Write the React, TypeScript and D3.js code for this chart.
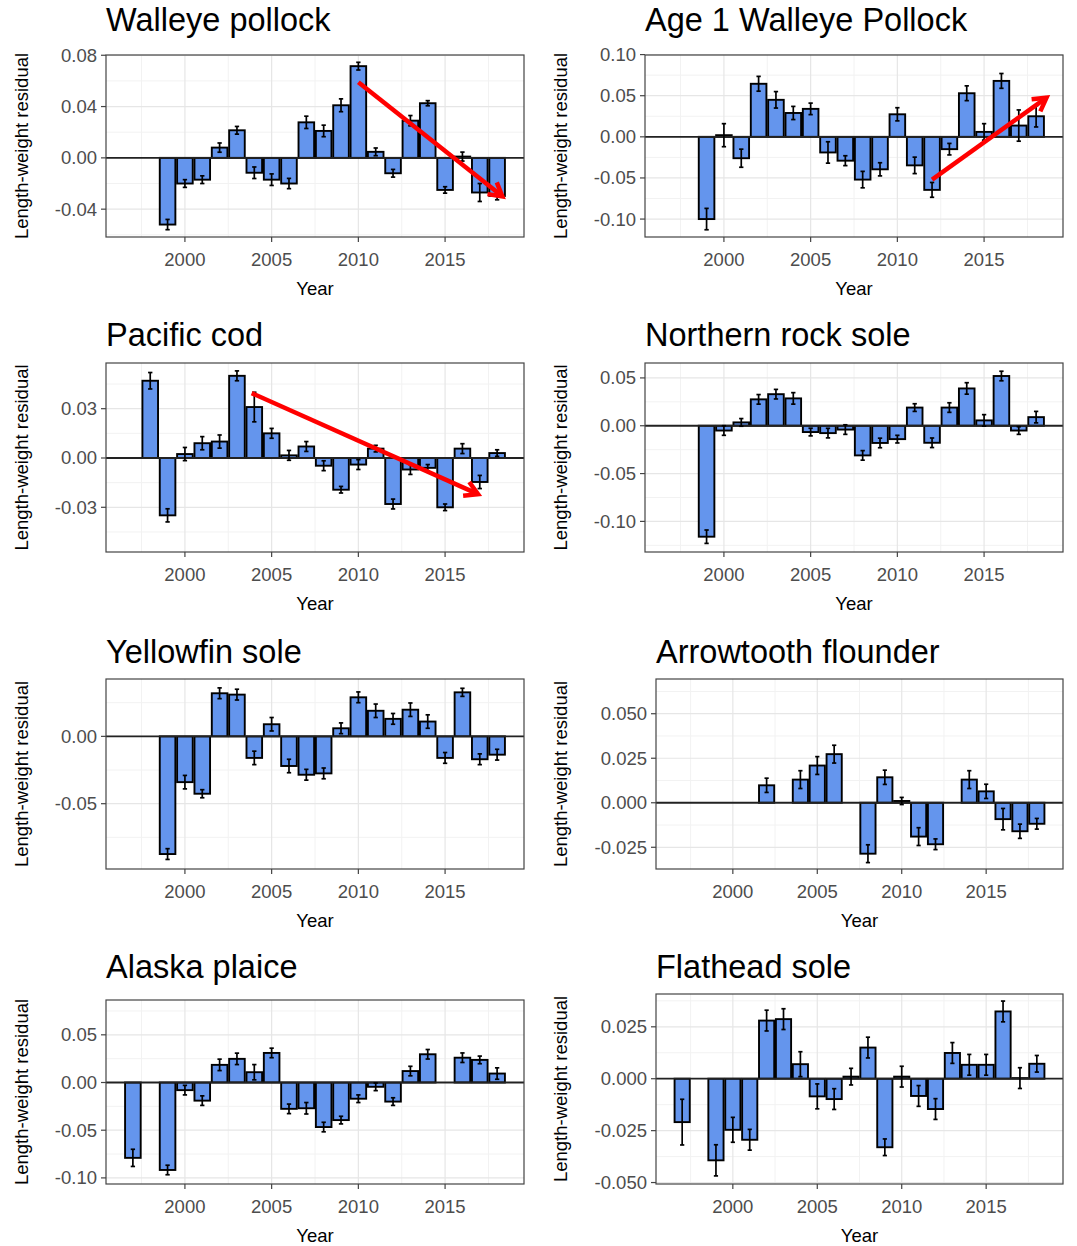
import React from 'react';
import * as d3 from 'd3';

// shared x axis (years)
const yearDomain: [number, number] = [1995.45, 2019.55];
const yearTicks = [2000, 2005, 2010, 2015];
const yearMinor = [1997.5, 2002.5, 2007.5, 2012.5, 2017.5];

const span = (a: number, b: number) => d3.range(a, b + 1);

// Walleye pollock
const wpYears = span(1999, 2018);
const wpValues = [-0.052, -0.02, -0.017, 0.008, 0.0215, -0.0116, -0.017, -0.02, 0.0277, 0.021, 0.041, 0.0715, 0.0047, -0.012, 0.029, 0.0426, -0.025, 0.001, -0.027, -0.0297];
const wpErrors = [0.004, 0.003, 0.003, 0.0036, 0.003, 0.0045, 0.0045, 0.004, 0.0048, 0.0045, 0.005, 0.003, 0.003, 0.003, 0.004, 0.002, 0.0025, 0.0035, 0.007, 0.003];

// Age 1 walleye pollock
const a1Years = span(1999, 2018);
const a1Values = [-0.1, 0.002, -0.026, 0.0645, 0.045, 0.029, 0.034, -0.019, -0.029, -0.052, -0.0395, 0.0274, -0.0347, -0.0645, -0.015, 0.053, 0.006, 0.068, 0.0137, 0.025];
const a1Errors = [0.013, 0.014, 0.011, 0.009, 0.01, 0.008, 0.007, 0.013, 0.006, 0.01, 0.008, 0.008, 0.01, 0.009, 0.007, 0.009, 0.01, 0.009, 0.019, 0.013];

// Pacific cod
const pcYears = span(1998, 2018);
const pcValues = [0.047, -0.0349, 0.0024, 0.009, 0.01, 0.05, 0.031, 0.015, 0.0016, 0.007, -0.0047, -0.0193, -0.004, 0.0057, -0.028, -0.007, -0.006, -0.03, 0.0057, -0.0146, 0.003];
const pcErrors = [0.005, 0.004, 0.004, 0.004, 0.004, 0.003, 0.009, 0.003, 0.003, 0.003, 0.003, 0.002, 0.003, 0.002, 0.003, 0.003, 0.002, 0.002, 0.003, 0.004, 0.002];

// Northern rock sole
const nrsYears = span(1999, 2018);
const nrsValues = [-0.116, -0.005, 0.0035, 0.0276, 0.033, 0.0286, -0.0066, -0.0077, -0.004, -0.031, -0.018, -0.014, 0.019, -0.0178, 0.019, 0.039, 0.0056, 0.052, -0.005, 0.009];
const nrsErrors = [0.007, 0.005, 0.004, 0.005, 0.005, 0.006, 0.004, 0.005, 0.005, 0.005, 0.005, 0.004, 0.004, 0.005, 0.005, 0.006, 0.006, 0.005, 0.004, 0.006];

// Yellowfin sole
const yfsYears = span(1999, 2018);
const yfsValues = [-0.0874, -0.034, -0.0426, 0.032, 0.031, -0.016, 0.009, -0.022, -0.0285, -0.0275, 0.006, 0.029, 0.019, 0.013, 0.0198, 0.011, -0.016, 0.0327, -0.017, -0.0136];
const yfsErrors = [0.004, 0.005, 0.003, 0.004, 0.004, 0.005, 0.005, 0.005, 0.004, 0.004, 0.004, 0.004, 0.005, 0.004, 0.005, 0.005, 0.004, 0.003, 0.004, 0.004];

// Arrowtooth flounder
const atfYears = [2002, 2004, 2005, 2006, 2008, 2009, 2010, 2011, 2012, 2014, 2015, 2016, 2017, 2018];
const atfValues = [0.0098, 0.013, 0.0209, 0.0273, -0.0286, 0.0143, 0.001, -0.019, -0.0233, 0.013, 0.0064, -0.0092, -0.016, -0.0118];
const atfErrors = [0.004, 0.005, 0.005, 0.005, 0.005, 0.004, 0.002, 0.005, 0.003, 0.005, 0.004, 0.006, 0.004, 0.003];

// Alaska plaice (no 1998, no 2015)
const akpYears = [1997, ...span(1999, 2014), 2016, 2017, 2018];
const akpValues = [-0.079, -0.0917, -0.008, -0.019, 0.0185, 0.0248, 0.0108, 0.031, -0.0276, -0.027, -0.0467, -0.0394, -0.017, -0.0045, -0.02, 0.012, 0.0296, 0.026, 0.0237, 0.0094];
const akpErrors = [0.009, 0.005, 0.005, 0.005, 0.006, 0.006, 0.008, 0.005, 0.005, 0.006, 0.005, 0.004, 0.004, 0.004, 0.004, 0.005, 0.005, 0.005, 0.004, 0.006];

// Flathead sole (no 1998)
const fhsYears = [1997, ...span(1999, 2018)];
const fhsValues = [-0.0209, -0.0393, -0.0246, -0.0294, 0.028, 0.0287, 0.007, -0.0085, -0.0098, 0.001, 0.015, -0.033, 0.001, -0.0083, -0.0146, 0.0124, 0.0067, 0.0067, 0.0324, 0.0003, 0.0072];
const fhsErrors = [0.011, 0.0075, 0.006, 0.005, 0.005, 0.005, 0.006, 0.006, 0.005, 0.004, 0.005, 0.004, 0.005, 0.005, 0.005, 0.005, 0.005, 0.005, 0.005, 0.005, 0.004];

// red trend arrows: [year0, value0, year1, value1]
const wpArrow = [2010, 0.059, 2018.3, -0.03];
const a1Arrow = [2012, -0.052, 2018.6, 0.0476];
const pcArrow = [2003.85, 0.0395, 2016.9, -0.022];

const locale = d3.formatLocale({ decimal: '.', thousands: ',', grouping: [3], currency: ['', ''], minus: '-' });

const FONT = '"Liberation Sans", Arial, Helvetica, sans-serif';

type PanelSpec = {
  title: string;
  years: number[];
  values: number[];
  errors: number[];
  yDomain: [number, number];
  yTicks: number[];
  fmt: string;
  arrow?: number[];
  box: { left: number; right: number; top: number; bottom: number; titleY: number; labelX: number };
};

const panels: PanelSpec[] = [
  { title: 'Walleye pollock', years: wpYears, values: wpValues, errors: wpErrors, yDomain: [-0.0617, 0.0802], yTicks: [-0.04, 0, 0.04, 0.08], fmt: '.2f', arrow: wpArrow,
    box: { left: 106, right: 524, top: 55, bottom: 237, titleY: 31, labelX: 22 } },
  { title: 'Age 1 Walleye Pollock', years: a1Years, values: a1Values, errors: a1Errors, yDomain: [-0.1218, 0.0995], yTicks: [-0.1, -0.05, 0, 0.05, 0.1], fmt: '.2f', arrow: a1Arrow,
    box: { left: 645, right: 1063, top: 55, bottom: 237, titleY: 31, labelX: 561 } },
  { title: 'Pacific cod', years: pcYears, values: pcValues, errors: pcErrors, yDomain: [-0.0572, 0.0578], yTicks: [-0.03, 0, 0.03], fmt: '.2f', arrow: pcArrow,
    box: { left: 106, right: 524, top: 363, bottom: 552, titleY: 346, labelX: 22 } },
  { title: 'Northern rock sole', years: nrsYears, values: nrsValues, errors: nrsErrors, yDomain: [-0.132, 0.0656], yTicks: [-0.1, -0.05, 0, 0.05], fmt: '.2f',
    box: { left: 645, right: 1063, top: 363, bottom: 552, titleY: 346, labelX: 561 } },
  { title: 'Yellowfin sole', years: yfsYears, values: yfsValues, errors: yfsErrors, yDomain: [-0.0985, 0.0426], yTicks: [-0.05, 0], fmt: '.2f',
    box: { left: 106, right: 524, top: 679, bottom: 869, titleY: 663, labelX: 22 } },
  { title: 'Arrowtooth flounder', years: atfYears, values: atfValues, errors: atfErrors, yDomain: [-0.0372, 0.0695], yTicks: [-0.025, 0, 0.025, 0.05], fmt: '.3f',
    box: { left: 656, right: 1063, top: 679, bottom: 869, titleY: 663, labelX: 561 } },
  { title: 'Alaska plaice', years: akpYears, values: akpValues, errors: akpErrors, yDomain: [-0.1064, 0.0865], yTicks: [-0.1, -0.05, 0, 0.05], fmt: '.2f',
    box: { left: 106, right: 524, top: 1000, bottom: 1184, titleY: 978, labelX: 22 } },
  { title: 'Flathead sole', years: fhsYears, values: fhsValues, errors: fhsErrors, yDomain: [-0.0507, 0.0408], yTicks: [-0.05, -0.025, 0, 0.025], fmt: '.3f',
    box: { left: 656, right: 1063, top: 994, bottom: 1184, titleY: 978, labelX: 561 } },
];

const Panel: React.FC<{ p: PanelSpec; idx: number }> = ({ p, idx }) => {
  const { left, right, top, bottom, titleY, labelX } = p.box;
  const x = d3.scaleLinear().domain(yearDomain).range([left, right]);
  const y = d3.scaleLinear().domain(p.yDomain).range([bottom, top]);
  const fmt = locale.format(p.fmt);

  // minor gridlines half way between major ticks
  const step = p.yTicks.length > 1 ? p.yTicks[1] - p.yTicks[0] : 0.05;
  const yMinor: number[] = [];
  for (let v = p.yTicks[0] - step * 1.5; v < p.yDomain[1]; v += step) {
    if (v > p.yDomain[0]) yMinor.push(v);
  }

  const barW = 0.9;
  const capW = 0.25;
  let arrowEl = null;
  if (p.arrow) {
    const [x0, y0, x1, y1] = p.arrow;
    const px0 = x(x0), py0 = y(y0), px1 = x(x1), py1 = y(y1);
    const ang = Math.atan2(py1 - py0, px1 - px0);
    const L = 15;
    const a1 = ang + Math.PI - Math.PI / 6;
    const a2 = ang + Math.PI + Math.PI / 6;
    arrowEl = (
      <g stroke="#ff0000" strokeWidth={4.5} fill="none">
        <line x1={px0} y1={py0} x2={px1} y2={py1} />
        <polyline
          points={`${px1 + L * Math.cos(a1)},${py1 + L * Math.sin(a1)} ${px1},${py1} ${px1 + L * Math.cos(a2)},${py1 + L * Math.sin(a2)}`}
          strokeLinejoin="miter"
        />
      </g>
    );
  }

  const clipId = `clip${idx}`;
  return (
    <g>
      <defs>
        <clipPath id={clipId}>
          <rect x={left} y={top} width={right - left} height={bottom - top} />
        </clipPath>
      </defs>
      <rect x={left} y={top} width={right - left} height={bottom - top} fill="#fff" />
      {yMinor.map((v) => (
        <line key={'ym' + v} x1={left} x2={right} y1={y(v)} y2={y(v)} stroke="#f2f2f2" strokeWidth={1} />
      ))}
      {yearMinor.map((v) => (
        <line key={'xm' + v} x1={x(v)} x2={x(v)} y1={top} y2={bottom} stroke="#f2f2f2" strokeWidth={1} />
      ))}
      {p.yTicks.map((v) => (
        <line key={'yg' + v} x1={left} x2={right} y1={y(v)} y2={y(v)} stroke="#e6e6e6" strokeWidth={1.2} />
      ))}
      {yearTicks.map((v) => (
        <line key={'xg' + v} x1={x(v)} x2={x(v)} y1={top} y2={bottom} stroke="#e6e6e6" strokeWidth={1.2} />
      ))}
      <g clipPath={`url(#${clipId})`}>
        {p.years.map((yr, i) => {
          const v = p.values[i];
          return (
            <rect
              key={'b' + yr}
              x={x(yr - barW / 2)}
              width={x(yr + barW / 2) - x(yr - barW / 2)}
              y={Math.min(y(v), y(0))}
              height={Math.abs(y(v) - y(0))}
              fill="#6495ED"
              stroke="#000"
              strokeWidth={1.9}
            />
          );
        })}
        <line x1={left} x2={right} y1={y(0)} y2={y(0)} stroke="#222" strokeWidth={1.8} />
        {p.years.map((yr, i) => {
          const v = p.values[i];
          const e = p.errors[i];
          return (
            <g key={'e' + yr} stroke="#000" strokeWidth={1.7}>
              <line x1={x(yr)} x2={x(yr)} y1={y(v + e)} y2={y(v - e)} />
              <line x1={x(yr - capW / 2)} x2={x(yr + capW / 2)} y1={y(v + e)} y2={y(v + e)} />
              <line x1={x(yr - capW / 2)} x2={x(yr + capW / 2)} y1={y(v - e)} y2={y(v - e)} />
            </g>
          );
        })}
      </g>
      {arrowEl}
      <rect x={left} y={top} width={right - left} height={bottom - top} fill="none" stroke="#444" strokeWidth={1.2} />
      {p.yTicks.map((v) => (
        <g key={'yt' + v}>
          <line x1={left - 5} x2={left} y1={y(v)} y2={y(v)} stroke="#444" strokeWidth={1.2} />
          <text x={left - 9} y={y(v)} dy="0.35em" textAnchor="end" fontSize={18.5} fill="#4d4d4d">
            {fmt(v)}
          </text>
        </g>
      ))}
      {yearTicks.map((v) => (
        <g key={'xt' + v}>
          <line x1={x(v)} x2={x(v)} y1={bottom} y2={bottom + 5} stroke="#444" strokeWidth={1.2} />
          <text x={x(v)} y={bottom + 29} textAnchor="middle" fontSize={18.5} fill="#4d4d4d">
            {v}
          </text>
        </g>
      ))}
      <text x={(left + right) / 2} y={bottom + 58} textAnchor="middle" fontSize={18.5} fill="#000">
        Year
      </text>
      <text
        transform={`translate(${labelX},${(top + bottom) / 2}) rotate(-90)`}
        textAnchor="middle"
        dy="0.35em"
        fontSize={18.5}
        fill="#000"
      >
        Length-weight residual
      </text>
      <text x={left} y={titleY} fontSize={32.5} fill="#000">
        {p.title}
      </text>
    </g>
  );
};

export default function App() {
  return (
    <svg
      width={1077}
      height={1246}
      style={{ position: 'absolute', left: 0, top: 0, background: '#fff', fontFamily: FONT }}
    >
      <rect width={1077} height={1246} fill="#fff" />
      {panels.map((p, i) => (
        <Panel key={p.title} p={p} idx={i} />
      ))}
    </svg>
  );
}
